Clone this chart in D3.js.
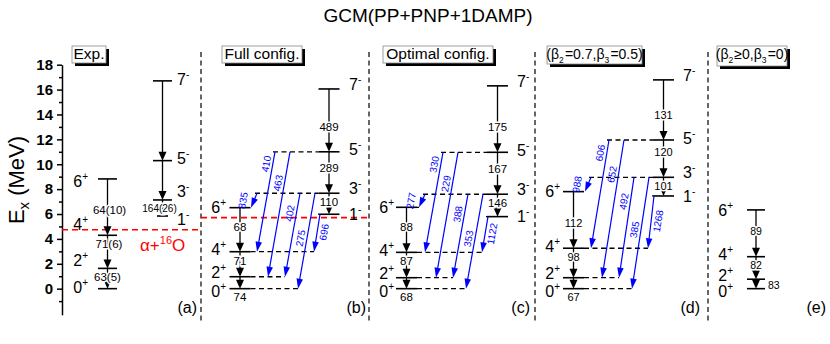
<!DOCTYPE html>
<html>
<head>
<meta charset="utf-8">
<script src="https://cdn.jsdelivr.net/npm/d3@7"></script>
<style>
  body { margin: 0; background: #fff; }
  svg { display: block; }
  text { font-family: Arial, "Liberation Sans", sans-serif; }
</style>
</head>
<body>
<svg id="chart" width="830" height="344"></svg>
<script>
// ---- data (energies in MeV) ----
const title = "GCM(PP+PNP+1DAMP)";
const panelNames = ["(a)", "(b)", "(c)", "(d)", "(e)"];
const panelTitles = ["Exp.", "Full config.", "Optimal config.", "(β2=0.7,β3=0.5)", "(β2≥0,β3=0)"];
const spins = ["0+", "2+", "4+", "6+", "1-", "3-", "5-", "7-"];
const levelsExp   = [0, 1.63, 4.29, 8.82, 5.84, 7.13, 10.29, 16.7];
const levelsFull  = [0, 0.96, 2.97, 6.51, 5.98, 7.67, 11.0, 16.05];
const levelsOpt   = [0, 0.88, 2.92, 6.54, 5.79, 7.59, 10.96, 16.3];
const levelsBeta  = [0, 0.88, 3.25, 7.8, 7.45, 8.95, 11.95, 16.78];
const levelsAxial = [0, 0.76, 2.57, 6.33, null, null, null, null];
const thresholds = [4.73, 5.71]; // exp, full config.
const thresholdLabel = "α+16O";

// in-band E2 transitions and their B(E2) labels
const e2From = ["2+", "4+", "6+", "3-", "5-", "7-"];
const e2To   = ["0+", "2+", "4+", "1-", "3-", "5-"];
const be2Exp   = ["63(5)", "71(6)", "64(10)", "164(26)", "", ""];
const be2Full  = ["74", "71", "68", "110", "289", "489"];
const be2Opt   = ["68", "87", "88", "146", "167", "175"];
const be2Beta  = ["67", "98", "112", "101", "120", "131"];
const be2Axial = ["83", "82", "89", null, null, null];

// inter-band transitions (blue)
const crossFrom = ["3-", "5-", "5-", "3-", "3-", "1-"];
const crossTo   = ["6+", "4+", "2+", "2+", "0+", "4+"];
const crossFull = [835, 410, 463, 402, 275, 696];
const crossOpt  = [277, 330, 229, 388, 353, 1122];
const crossBeta = [988, 606, 652, 492, 385, 1268];

const majorTicks = [0, 2, 4, 6, 8, 10, 12, 14, 16, 18];
const minorTicks = [-1, 1, 3, 5, 7, 9, 11, 13, 15, 17];

const panelLevels = [levelsExp, levelsFull, levelsOpt, levelsBeta, levelsAxial];
const panelBE2 = [be2Exp, be2Full, be2Opt, be2Beta, be2Axial];
const panelCross = [null, crossFull, crossOpt, crossBeta, null];

// ---- layout ----
const y = d3.scaleLinear().domain([-2.1, 18]).range([314.8, 64.7]);
const axisX = 62;
const sepX = [201, 369, 535, 708];
const thShift = { "0+": 3, "2+": -4, "4+": -2, "6+": 0, "1-": 0, "3-": -5, "5-": -2, "7-": -5 };
const layout = [
  { x0: 62, pos: 45.5, neg: 100.5, hw: 9.5, posLab: 26, negLab: 115, fs: 11.5, small: "below",
    shift: { "0+": -1, "2+": -8, "4+": -11, "6+": 2, "1-": 3, "3-": -9, "5-": -2, "7-": -2 },
    short: { "1-": 5.5 }, labFs: { "3-": 10 }, labDx: { "3-": -3, "6+": 2, "4+": 1.5 } },
  { x0: 201, pos: 39, neg: 128, hw: 10.5, posLab: 25, negLab: 148, fs: 11.5, small: "below", shift: thShift, short: {}, labFs: {}, labDx: {} },
  { x0: 369, pos: 37.5, neg: 128.5, hw: 10.5, posLab: 25, negLab: 148, fs: 11.5, small: "below", shift: thShift, short: {}, labFs: {}, labDx: {} },
  { x0: 535, pos: 38.5, neg: 128.5, hw: 10.5, posLab: 25, negLab: 148, fs: 11, small: "below", shift: thShift, short: {}, labFs: {}, labDx: {} },
  { x0: 708, pos: 48, neg: 0, hw: 9, posLab: 25, negLab: 0, fs: 10.5, small: "right", shift: thShift, short: {}, labFs: {}, labDx: {} }
];
const letterRight = [197, 366, 530, 700, 826];
const boxLeft = [72, 222, 383, 547, 717];
const boxWidth = [34, 80, 110, 95, 70];
const boxHeight = [17, 17, 17, 18, 20];
// blue arrow geometry, offsets from the panel's left edge
const crossStart = [56, 74, 89, 99, 114, 119];
const crossEnd   = [50, 56, 67, 84, 97, 113];
const crossLabT  = [0.5, 0.12, 0.25, 0.24, 0.47, 0.48];
const crossLabOff = [-11, -6.5, -6.5, -6.5, -6.5, 7];

const svg = d3.select("#chart");

function head(g, x, yy, ang, len, wid, color) {
  const c = Math.cos(ang), s = Math.sin(ang);
  const bx = x - len * c, by = yy - len * s;
  const px = -s * wid / 2, py = c * wid / 2;
  g.append("path")
    .attr("d", `M${x},${yy}L${bx + px},${by + py}L${bx - px},${by - py}Z`)
    .attr("fill", color);
}

// title
svg.append("text")
  .attr("x", 428).attr("y", 22)
  .attr("text-anchor", "middle")
  .attr("font-size", 19)
  .text(title);

// y axis
const gAxis = svg.append("g").attr("transform", `translate(${axisX},0)`)
  .call(d3.axisLeft(y).tickValues(majorTicks).tickSize(5).tickSizeOuter(0).tickPadding(4));
gAxis.selectAll("text")
  .attr("font-size", 15).attr("font-weight", "bold")
  .attr("font-family", "Arial, 'Liberation Sans', sans-serif").attr("fill", "#000");
gAxis.select(".domain").attr("stroke-width", 1.5);
gAxis.selectAll(".tick line").attr("stroke-width", 1.5);
svg.append("g").attr("transform", `translate(${axisX},0)`)
  .call(d3.axisLeft(y).tickValues(minorTicks).tickSize(3).tickFormat(""))
  .call((g) => g.select(".domain").remove())
  .selectAll(".tick line").attr("stroke-width", 1.5);

const ylab = svg.append("text")
  .attr("transform", "translate(24,180) rotate(-90)")
  .attr("text-anchor", "middle")
  .attr("font-size", 22);
ylab.append("tspan").text("E");
ylab.append("tspan").attr("font-size", 15).attr("dy", 5).text("x");
ylab.append("tspan").attr("dy", -5).text(" (MeV)");

// panel separators
svg.selectAll(".sep").data(sepX).join("line")
  .attr("class", "sep")
  .attr("x1", (d) => d).attr("x2", (d) => d)
  .attr("y1", 52).attr("y2", 322)
  .attr("stroke", "#000").attr("stroke-width", 1.2)
  .attr("stroke-dasharray", "5,3.5");

// alpha threshold lines
const thrX = [[axisX, sepX[0]], [sepX[0], sepX[1]]];
thresholds.forEach((e, i) => {
  svg.append("line")
    .attr("x1", thrX[i][0]).attr("x2", thrX[i][1])
    .attr("y1", y(e)).attr("y2", y(e))
    .attr("stroke", "#ff0000").attr("stroke-width", 1.6)
    .attr("stroke-dasharray", "6,4");
});
const thrText = svg.append("text")
  .attr("x", 140).attr("y", y(thresholds[0]) + 21.5)
  .attr("font-family", "'Liberation Serif', 'Times New Roman', serif")
  .attr("font-size", 17).attr("fill", "#ff0000");
thrText.append("tspan").text(thresholdLabel.slice(0, 2));
thrText.append("tspan").attr("font-size", 11).attr("dy", -7).text(thresholdLabel.slice(2, 4));
thrText.append("tspan").attr("dy", 7).text(thresholdLabel.slice(4));

// panels
panelLevels.forEach((lev, pi) => {
  const L = layout[pi];
  const g = svg.append("g");
  const E = {};
  spins.forEach((s, k) => { if (lev[k] != null) E[s] = lev[k]; });
  const cx = (s) => L.x0 + (s.endsWith("+") ? L.pos : L.neg);
  const cross = panelCross[pi];

  // dashed extensions for inter-band transitions
  if (cross) {
    const upper = {}, lower = {};
    crossFrom.forEach((s, k) => {
      upper[s] = Math.min(upper[s] ?? 1e9, L.x0 + crossStart[k] - 2);
      const t = crossTo[k];
      lower[t] = Math.max(lower[t] ?? -1e9, L.x0 + crossEnd[k]);
    });
    Object.keys(upper).forEach((s) => {
      g.append("line")
        .attr("x1", upper[s]).attr("x2", cx(s) - L.hw)
        .attr("y1", y(E[s])).attr("y2", y(E[s]))
        .attr("stroke", "#000").attr("stroke-width", 1.3).attr("stroke-dasharray", "5,3.5");
    });
    Object.keys(lower).forEach((s) => {
      const x1 = cx(s) + L.hw;
      if (lower[s] <= x1 + 1) return;
      g.append("line")
        .attr("x1", x1).attr("x2", lower[s])
        .attr("y1", y(E[s])).attr("y2", y(E[s]))
        .attr("stroke", "#000").attr("stroke-width", 1.3).attr("stroke-dasharray", "5,3.5");
    });
  }

  // level bars and spin labels
  Object.keys(E).forEach((s) => {
    const yy = y(E[s]);
    const hw = L.short[s] || L.hw;
    g.append("line")
      .attr("x1", cx(s) - hw).attr("x2", cx(s) + hw)
      .attr("y1", yy).attr("y2", yy)
      .attr("stroke", "#000").attr("stroke-width", 1.6);
    const pos = s.endsWith("+");
    const t = g.append("text")
      .attr("x", L.x0 + (pos ? L.posLab : L.negLab))
      .attr("y", yy + L.shift[s] + 5.7)
      .attr("text-anchor", pos ? "end" : "start")
      .attr("font-size", 16);
    t.append("tspan").text(s[0]);
    t.append("tspan").attr("font-size", 10).attr("dy", -7).text(s[1] === "-" ? "-" : "+");
  });

  // in-band E2 arrows
  const labels = [];
  e2From.forEach((f, k) => {
    const to = e2To[k];
    if (E[f] == null || E[to] == null) return;
    const x = cx(f), y1 = y(E[f]), y2 = y(E[to]);
    g.append("line")
      .attr("x1", x).attr("x2", x).attr("y1", y1).attr("y2", y2 - 6)
      .attr("stroke", "#000").attr("stroke-width", 1.3);
    head(g, x, y2, Math.PI / 2, 9, 8, "#000");
    const lab = panelBE2[pi][k];
    if (!lab) return;
    const fs = L.labFs[f] || L.fs;
    const dx = L.labDx[f] || 0;
    if (y2 - y1 < 15) {
      if (L.small === "right") labels.push({ x: x + 12, y: (y1 + y2) / 2 + 1, a: "start", t: lab, fs });
      else labels.push({ x: x + dx, y: y2 + 8.5, a: "middle", t: lab, fs });
    } else {
      labels.push({ x: x + dx, y: Math.max(y2 - 25, y1 + 9), a: "middle", t: lab, fs });
    }
  });
  labels.forEach((d) => {
    g.append("text")
      .attr("x", d.x).attr("y", d.y)
      .attr("dy", "0.35em")
      .attr("text-anchor", d.a)
      .attr("font-size", d.fs)
      .attr("stroke", "#fff").attr("stroke-width", 3)
      .attr("paint-order", "stroke")
      .text(d.t);
  });

  // inter-band arrows (blue)
  if (cross) {
    crossFrom.forEach((f, k) => {
      const x1 = L.x0 + crossStart[k], y1 = y(E[f]);
      const x2 = L.x0 + crossEnd[k], y2 = y(E[crossTo[k]]);
      const ang = Math.atan2(y2 - y1, x2 - x1);
      g.append("line")
        .attr("x1", x1).attr("y1", y1)
        .attr("x2", x2 - 7 * Math.cos(ang)).attr("y2", y2 - 7 * Math.sin(ang))
        .attr("stroke", "#0000ff").attr("stroke-width", 1.2);
      head(g, x2, y2, ang, 10, 6.5, "#0000ff");
      const t = crossLabT[k];
      const lx = x1 + t * (x2 - x1) + crossLabOff[k];
      const ly = y1 + t * (y2 - y1);
      g.append("text")
        .attr("transform", `translate(${lx},${ly}) rotate(-80)`)
        .attr("text-anchor", "middle")
        .attr("dy", "0.35em")
        .attr("font-size", 10)
        .attr("fill", "#0000ff")
        .text(cross[k]);
    });
  }

  // panel letter
  svg.append("text")
    .attr("x", letterRight[pi]).attr("y", 313)
    .attr("text-anchor", "end")
    .attr("font-size", 16)
    .text(panelNames[pi]);

  // boxed panel title with shadow
  const bg = svg.append("g");
  const serif = panelTitles[pi].startsWith("(");
  const bx = boxLeft[pi], bw = boxWidth[pi], by = 46, bh = boxHeight[pi];
  bg.append("rect")
    .attr("x", bx + 3).attr("y", by + 3).attr("width", bw).attr("height", bh)
    .attr("fill", "#000");
  bg.append("rect")
    .attr("x", bx).attr("y", by).attr("width", bw).attr("height", bh)
    .attr("fill", "#fff").attr("stroke", "#888").attr("stroke-width", 0.8);
  const tt = bg.append("text")
    .attr("x", bx + bw / 2).attr("y", 59)
    .attr("text-anchor", "middle")
    .attr("font-size", serif ? 14 : 15.5)
    .attr("font-family", serif ? "'Liberation Serif', 'Times New Roman', serif" : null);
  panelTitles[pi].split(/(β\d)/).forEach((part) => {
    if (!part) return;
    if (/^β\d$/.test(part)) {
      tt.append("tspan").text("β");
      tt.append("tspan").attr("font-size", 8.5).attr("dy", 3.5).text(part[1]);
      tt.append("tspan").attr("dy", -3.5).text("\u200A");
    } else {
      tt.append("tspan").text(part);
    }
  });
});
</script>
</body>
</html>
